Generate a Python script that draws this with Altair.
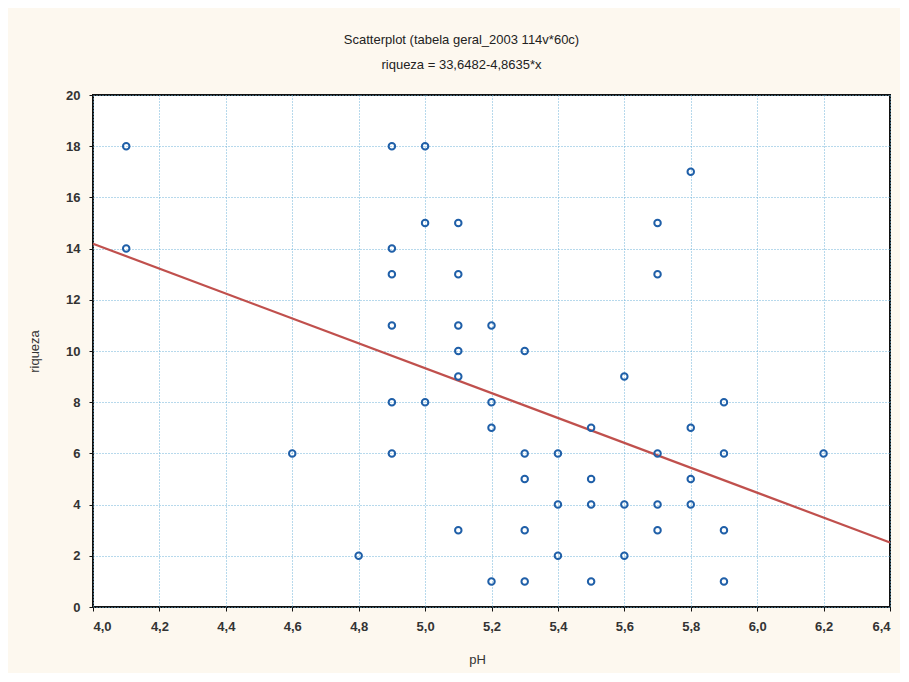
import altair as alt
import pandas as pd

ph = [4.1, 4.1, 4.6, 4.8,
      4.9, 4.9, 4.9, 4.9, 4.9, 4.9,
      5.0, 5.0, 5.0,
      5.1, 5.1, 5.1, 5.1, 5.1, 5.1,
      5.2, 5.2, 5.2, 5.2,
      5.3, 5.3, 5.3, 5.3, 5.3,
      5.4, 5.4, 5.4,
      5.5, 5.5, 5.5, 5.5,
      5.6, 5.6, 5.6,
      5.7, 5.7, 5.7, 5.7, 5.7,
      5.8, 5.8, 5.8, 5.8,
      5.9, 5.9, 5.9, 5.9,
      6.2]
riqueza = [18, 14, 6, 2,
           18, 14, 13, 11, 8, 6,
           18, 15, 8,
           15, 13, 11, 10, 9, 3,
           11, 8, 7, 1,
           10, 6, 5, 3, 1,
           6, 4, 2,
           7, 5, 4, 1,
           9, 4, 2,
           15, 13, 6, 4, 3,
           17, 7, 5, 4,
           8, 6, 3, 1,
           6]

fit_x = [4.0, 6.4]
fit_y = [14.19, 2.52]

x_ticks = [4.0, 4.2, 4.4, 4.6, 4.8, 5.0, 5.2, 5.4, 5.6, 5.8, 6.0, 6.2, 6.4]
y_ticks = [0, 2, 4, 6, 8, 10, 12, 14, 16, 18, 20]

pts = pd.DataFrame({"pH": ph, "riqueza": riqueza})
fit = pd.DataFrame({"pH": fit_x, "riqueza": fit_y})

xscale = alt.Scale(domain=[4.0, 6.4], nice=False, zero=False)
yscale = alt.Scale(domain=[0, 20], nice=False)

xaxis = alt.Axis(values=x_ticks, labelExpr="replace(format(datum.value, '.1f'), '.', ',')",
                 title="pH", titleX=384, titleY=46, grid=True)
yaxis = alt.Axis(values=y_ticks, title="riqueza", titleX=-52, titleY=256, grid=True)

line = alt.Chart(fit).mark_line(color="#c0504d", strokeWidth=2.2).encode(
    x=alt.X("pH:Q", scale=xscale, axis=xaxis),
    y=alt.Y("riqueza:Q", scale=yscale, axis=yaxis),
)

points = alt.Chart(pts).mark_point(shape="circle", filled=False, color="#1f5fa8",
                                   size=42, strokeWidth=2, opacity=1).encode(
    x=alt.X("pH:Q", scale=xscale),
    y=alt.Y("riqueza:Q", scale=yscale),
)

chart = alt.layer(line, points).properties(
    width=797, height=512,
    title=alt.TitleParams(
        text="Scatterplot (tabela geral_2003 114v*60c)",
        subtitle="riqueza = 33,6482-4,8635*x",
        fontSize=13, fontWeight="normal", font="Liberation Sans", color="#222222",
        subtitleFontSize=13, subtitleFont="Liberation Sans", subtitleColor="#222222",
        subtitlePadding=12, offset=17, dx=-30,
    ),
    autosize=alt.AutoSizeParams(type="none"),
    padding={"left": 85, "top": 87, "right": 10, "bottom": 66},
    background="#fdf8ef",
).configure_view(
    fill="white", stroke="#111111", strokeWidth=2,
).configure_axis(
    gridColor="#6fb3d9", gridDash=[1, 2], gridWidth=1, gridOpacity=1,
    domain=False, tickColor="#111111", tickSize=4,
    labelFont="Liberation Sans", labelFontSize=13, labelColor="#333333", labelFontWeight="bold",
    titleFont="Liberation Sans", titleFontSize=13, titleColor="#333333", titleFontWeight="normal",
    labelPadding=9,
)

chart.save("out.html", embed_options={"renderer": "svg", "actions": False})
